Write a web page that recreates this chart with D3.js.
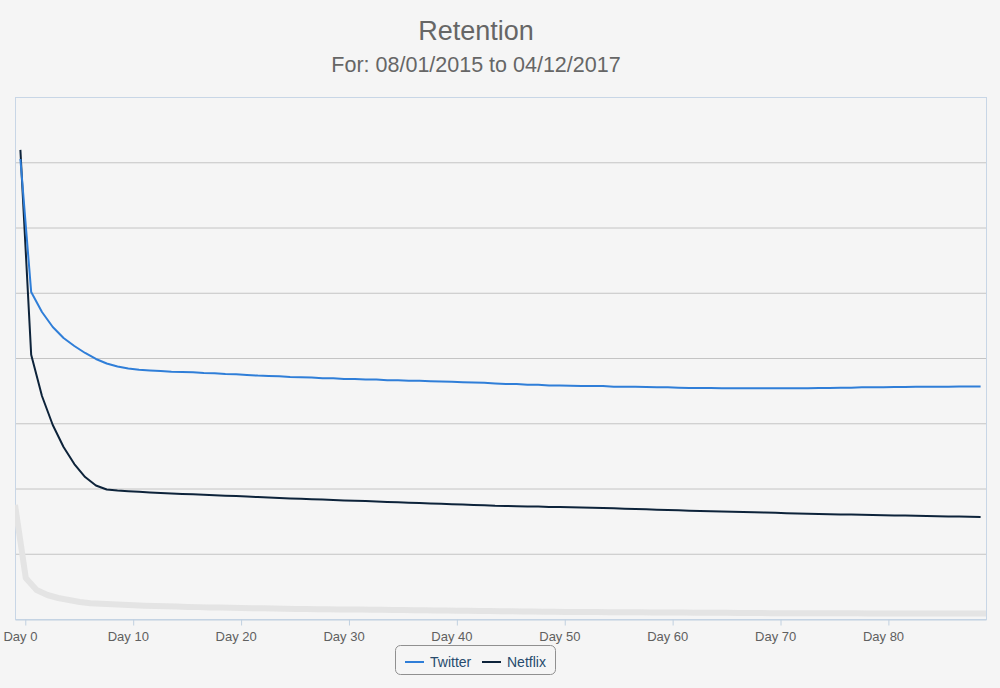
<!DOCTYPE html>
<html>
<head>
<meta charset="utf-8">
<script src="https://cdn.jsdelivr.net/npm/d3@7"></script>
<style>
  html, body { margin: 0; padding: 0; background: #f5f5f5; }
  svg { display: block; font-family: "Helvetica Neue", Helvetica, "Liberation Sans", Arial, sans-serif; }
</style>
</head>
<body>
<div id="chart"></div>
<script>
// Dimensions
const width = 1000, height = 688;
const margin = { top: 97, right: 14, bottom: 69, left: 15 };

// Données (rétention, jours 0..89)
const days = d3.range(0, 90);
const tickDays = [0, 10, 20, 30, 40, 50, 60, 70, 80];

const twitter = [
  70.5, 50.1, 47.05, 44.75, 43.07, 41.84, 40.77, 39.85, 39.16, 38.70,
  38.39, 38.2, 38.1, 38.0, 37.9, 37.85, 37.8, 37.7, 37.65, 37.55,
  37.5, 37.4, 37.3, 37.25, 37.2, 37.1, 37.05, 37.0, 36.9, 36.9,
  36.8, 36.8, 36.7, 36.7, 36.6, 36.6, 36.5, 36.5, 36.45, 36.4,
  36.35, 36.3, 36.25, 36.2, 36.1, 36.0, 36.0, 35.9, 35.9, 35.8,
  35.8, 35.75, 35.7, 35.7, 35.7, 35.6, 35.6, 35.6, 35.55, 35.5,
  35.5, 35.45, 35.4, 35.4, 35.4, 35.35, 35.35, 35.35, 35.35, 35.35,
  35.35, 35.35, 35.35, 35.35, 35.4, 35.4, 35.45, 35.45, 35.5, 35.5,
  35.5, 35.55, 35.55, 35.6, 35.6, 35.6, 35.6, 35.65, 35.65, 35.65
];

const netflix = [
  71.9, 40.5, 34.18, 29.73, 26.36, 23.75, 21.76, 20.46, 19.85, 19.69,
  19.59, 19.49, 19.40, 19.31, 19.23, 19.16, 19.11, 19.03, 18.97, 18.90,
  18.84, 18.76, 18.68, 18.62, 18.54, 18.48, 18.42, 18.36, 18.30, 18.24,
  18.18, 18.11, 18.07, 18.01, 17.95, 17.89, 17.82, 17.78, 17.72, 17.66,
  17.59, 17.55, 17.49, 17.43, 17.36, 17.33, 17.29, 17.26, 17.23, 17.18,
  17.15, 17.12, 17.09, 17.04, 17.01, 16.97, 16.90, 16.86, 16.81, 16.75,
  16.70, 16.66, 16.60, 16.55, 16.51, 16.48, 16.43, 16.40, 16.35, 16.32,
  16.28, 16.21, 16.17, 16.12, 16.09, 16.06, 16.03, 16.00, 15.97, 15.94,
  15.91, 15.88, 15.85, 15.82, 15.79, 15.75, 15.72, 15.69, 15.66, 15.63
];

// Série grise en arrière-plan (points sur les bords des catégories, 0..90)
const baseline = [
  17.5, 6.28, 4.44, 3.68, 3.22, 2.91, 2.61, 2.42, 2.33, 2.25,
  2.18, 2.10, 2.04, 1.99, 1.95, 1.90, 1.85, 1.82, 1.78, 1.75,
  1.72, 1.69, 1.66, 1.63, 1.60, 1.57, 1.54, 1.52, 1.50, 1.48,
  1.46, 1.45, 1.44, 1.42, 1.41, 1.39, 1.38, 1.36, 1.34, 1.32,
  1.30, 1.28, 1.26, 1.24, 1.22, 1.20, 1.18, 1.16, 1.14, 1.12,
  1.10, 1.09, 1.08, 1.07, 1.06, 1.05, 1.04, 1.03, 1.02, 1.01,
  1.00, 0.99, 0.98, 0.97, 0.96, 0.95, 0.94, 0.93, 0.92, 0.91,
  0.90, 0.90, 0.89, 0.89, 0.88, 0.88, 0.87, 0.87, 0.87, 0.86,
  0.86, 0.86, 0.86, 0.85, 0.85, 0.85, 0.85, 0.85, 0.84, 0.84,
  0.84
];

const gridValues = [10, 20, 30, 40, 50, 60, 70];

const series = [
  { name: "Twitter", values: twitter, color: "#2f7ed8" },
  { name: "Netflix", values: netflix, color: "#0d233a" }
];

// SVG
const svg = d3.select("#chart")
  .append("svg")
  .attr("width", width)
  .attr("height", height);

svg.append("rect")
  .attr("width", width).attr("height", height)
  .attr("fill", "#f5f5f5");

const x0 = margin.left, x1 = width - margin.right;
const y0 = height - margin.bottom, y1 = margin.top;

// Échelles
const x = d3.scaleBand().domain(days).range([x0, x1]).padding(0);
const bw = x.bandwidth();
const xg = d3.scaleLinear().domain([0, 90]).range([x0, x1]);
const y = d3.scaleLinear().domain([0, 80]).range([y0, y1]);

// Titres
svg.append("text")
  .attr("x", 476).attr("y", 40)
  .attr("text-anchor", "middle")
  .attr("font-size", 27)
  .attr("font-weight", 300)
  .attr("fill", "#666")
  .text("Retention");

svg.append("text")
  .attr("x", 476).attr("y", 72)
  .attr("text-anchor", "middle")
  .attr("font-size", 21.5)
  .attr("font-weight", 300)
  .attr("fill", "#666")
  .text("For: 08/01/2015 to 04/12/2017");

// Grille horizontale
svg.append("g")
  .attr("transform", `translate(${x0},0)`)
  .call(d3.axisLeft(y).tickValues(gridValues).tickSize(-(x1 - x0)).tickFormat(""))
  .call(g => g.select(".domain").remove())
  .call(g => g.selectAll("line").attr("stroke", "#c4c4c4").attr("stroke-width", 1));

// Cadre du graphique
svg.append("rect")
  .attr("x", x0 + 0.5).attr("y", y1 + 0.5)
  .attr("width", x1 - x0).attr("height", y0 - y1)
  .attr("fill", "none")
  .attr("stroke", "#c8d6e6")
  .attr("stroke-width", 1);

// Zone de tracé
svg.append("clipPath").attr("id", "clip")
  .append("rect")
  .attr("x", x0).attr("y", y1)
  .attr("width", x1 - x0).attr("height", y0 - y1);

const plot = svg.append("g").attr("clip-path", "url(#clip)");

// Série grise
plot.append("path")
  .datum(baseline)
  .attr("fill", "none")
  .attr("stroke", "#e4e4e4")
  .attr("stroke-width", 6)
  .attr("stroke-linejoin", "round")
  .attr("d", d3.line().x((d, i) => xg(i)).y(d => y(d)));

// Séries principales
const line = d3.line()
  .x((d, i) => x(days[i]) + bw / 2)
  .y(d => y(d));

plot.selectAll(".serie")
  .data(series.slice().reverse())
  .enter().append("path")
  .attr("class", "serie")
  .attr("fill", "none")
  .attr("stroke", d => d.color)
  .attr("stroke-width", 2)
  .attr("stroke-linejoin", "round")
  .attr("d", d => line(d.values));

// Axe X
const xAxis = svg.append("g")
  .attr("transform", `translate(0,${y0 + 0.5})`)
  .call(d3.axisBottom(x).tickValues(tickDays).tickSize(6).tickSizeOuter(0).tickFormat(d => "Day " + d));

xAxis.select(".domain").attr("stroke", "#c0d0e0");
xAxis.selectAll(".tick line")
  .attr("stroke", "#c0d0e0")
  .attr("transform", `translate(${bw / 2},0)`);
xAxis.selectAll(".tick text")
  .attr("fill", "#606060")
  .attr("font-size", 13)
  .attr("font-family", "\"Helvetica Neue\", Helvetica, \"Liberation Sans\", Arial, sans-serif")
  .attr("dy", "0.95em");

// Légende
const legend = svg.append("g");
legend.append("rect")
  .attr("x", 395.5).attr("y", 645.5)
  .attr("width", 160).attr("height", 29)
  .attr("rx", 5)
  .attr("fill", "#f5f5f5")
  .attr("stroke", "#909090");

const legendX = [405, 482];
series.forEach((s, i) => {
  const lx = legendX[i];
  legend.append("line")
    .attr("x1", lx).attr("x2", lx + 19)
    .attr("y1", 662).attr("y2", 662)
    .attr("stroke", s.color)
    .attr("stroke-width", 2);
  legend.append("text")
    .attr("x", lx + 25).attr("y", 667)
    .attr("font-size", 14)
    .attr("fill", "#274b6d")
    .text(s.name);
});
</script>
</body>
</html>
